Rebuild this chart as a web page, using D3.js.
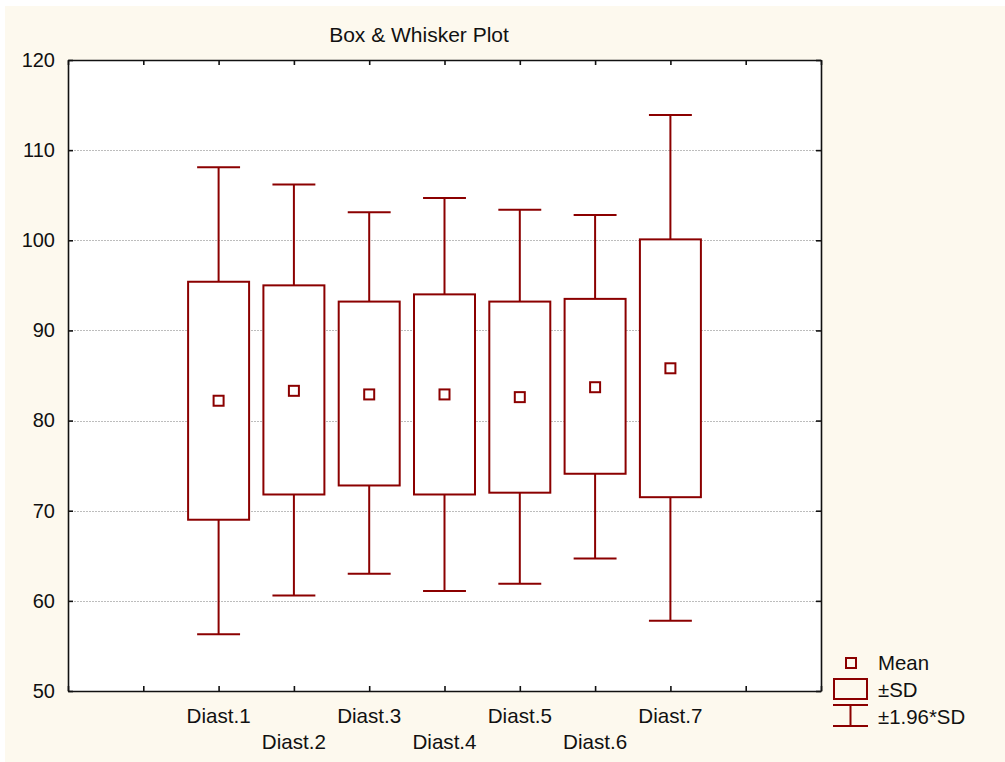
<!DOCTYPE html>
<html>
<head>
<meta charset="utf-8">
<script src="https://cdn.jsdelivr.net/npm/d3@7"></script>
<style>
  body { margin: 0; background: #fff; }
  text { font-family: "Liberation Sans", Arial, sans-serif; fill: #111; }
</style>
</head>
<body>
<div id="chart"></div>
<script>
// values
var categories = ["Diast.1", "Diast.2", "Diast.3", "Diast.4", "Diast.5", "Diast.6", "Diast.7"];
var means   = [82.2, 83.3, 82.9, 82.9, 82.6, 83.7, 85.8];
var sdLow   = [69.0, 71.8, 72.8, 71.8, 72.0, 74.1, 71.5];
var sdHigh  = [95.4, 95.0, 93.2, 94.0, 93.2, 93.5, 100.1];
var ciLow   = [56.3, 60.6, 63.0, 61.1, 61.9, 64.7, 57.8];
var ciHigh  = [108.1, 106.2, 103.1, 104.7, 103.4, 102.8, 113.9];
var yTicks  = [50, 60, 70, 80, 90, 100, 110, 120];
var legendLabels = ["Mean", "\u00B1SD", "\u00B11.96*SD"];

var W = 1005, H = 762;
var red = "#8b0000";

var svg = d3.select("#chart").append("svg")
    .attr("width", W)
    .attr("height", H);

// cream backdrop with thin white margin
svg.append("rect")
    .attr("x", 5).attr("y", 6)
    .attr("width", W - 5).attr("height", H - 6)
    .attr("fill", "#fdf9ee");

var x = d3.scaleLinear().domain([0, 10]).range([68, 821]);
var y = d3.scaleLinear().domain([50, 120]).range([691, 60]);

// plot area
svg.append("rect")
    .attr("x", x(0)).attr("y", y(120))
    .attr("width", x(10) - x(0)).attr("height", y(50) - y(120))
    .attr("fill", "#fff");

// gridlines
svg.append("g")
  .selectAll("line")
  .data(yTicks.slice(1, -1))
  .enter().append("line")
    .attr("x1", x(0)).attr("x2", x(10))
    .attr("y1", d => Math.round(y(d)) + 0.5)
    .attr("y2", d => Math.round(y(d)) + 0.5)
    .attr("stroke", "#bdbdbd")
    .attr("stroke-dasharray", "2,1");

// axes, ticks pointing inwards
function styleAxis(g) {
  g.selectAll("path.domain").attr("stroke", "#111").attr("stroke-width", 1.6);
  g.selectAll(".tick line").attr("stroke", "#111").attr("stroke-width", 1.6);
  g.selectAll(".tick text").style("font-size", "20px").attr("fill", "#111");
}

svg.append("g")
    .attr("transform", "translate(" + x(0) + ",0)")
    .call(d3.axisLeft(y).tickValues(yTicks).tickSize(-5).tickSizeOuter(0).tickPadding(13))
    .call(styleAxis);

svg.append("g")
    .attr("transform", "translate(" + x(10) + ",0)")
    .call(d3.axisRight(y).tickValues(yTicks).tickSize(-5).tickSizeOuter(0).tickFormat(""))
    .call(styleAxis);

svg.append("g")
    .attr("transform", "translate(0," + y(50) + ")")
    .call(d3.axisBottom(x).ticks(10).tickSize(-5).tickSizeOuter(0).tickFormat(""))
    .call(styleAxis);

svg.append("g")
    .attr("transform", "translate(0," + y(120) + ")")
    .call(d3.axisTop(x).ticks(10).tickSize(-5).tickSizeOuter(0).tickFormat(""))
    .call(styleAxis);

// category labels, staggered on two rows
svg.append("g")
  .selectAll("text")
  .data(categories)
  .enter().append("text")
    .attr("x", (d, i) => x(i + 2))
    .attr("y", (d, i) => i % 2 === 0 ? 723 : 749)
    .attr("text-anchor", "middle")
    .style("font-size", "20.6px")
    .text(d => d);

// title
svg.append("text")
    .attr("x", 419)
    .attr("y", 42)
    .attr("text-anchor", "middle")
    .style("font-size", "21px")
    .text("Box & Whisker Plot");

// boxes and whiskers
var boxW = 0.81, capW = 0.57;
var groups = svg.append("g")
  .selectAll("g")
  .data(categories)
  .enter().append("g")
    .attr("fill", "none")
    .attr("stroke", red)
    .attr("stroke-width", 2);

groups.append("line")
    .attr("x1", (d, i) => x(i + 2)).attr("x2", (d, i) => x(i + 2))
    .attr("y1", (d, i) => y(sdHigh[i])).attr("y2", (d, i) => y(ciHigh[i]));
groups.append("line")
    .attr("x1", (d, i) => x(i + 2)).attr("x2", (d, i) => x(i + 2))
    .attr("y1", (d, i) => y(sdLow[i])).attr("y2", (d, i) => y(ciLow[i]));
groups.append("line")
    .attr("x1", (d, i) => x(i + 2 - capW / 2)).attr("x2", (d, i) => x(i + 2 + capW / 2))
    .attr("y1", (d, i) => y(ciHigh[i])).attr("y2", (d, i) => y(ciHigh[i]));
groups.append("line")
    .attr("x1", (d, i) => x(i + 2 - capW / 2)).attr("x2", (d, i) => x(i + 2 + capW / 2))
    .attr("y1", (d, i) => y(ciLow[i])).attr("y2", (d, i) => y(ciLow[i]));
groups.append("rect")
    .attr("x", (d, i) => x(i + 2 - boxW / 2))
    .attr("width", x(boxW) - x(0))
    .attr("y", (d, i) => y(sdHigh[i]))
    .attr("height", (d, i) => y(sdLow[i]) - y(sdHigh[i]))
    .attr("fill", "#fff");
groups.append("rect")
    .attr("x", (d, i) => x(i + 2) - 5)
    .attr("y", (d, i) => y(means[i]) - 5)
    .attr("width", 10).attr("height", 10)
    .attr("fill", "#fff");

// legend
var lg = svg.append("g").attr("fill", "none").attr("stroke", red).attr("stroke-width", 2);
lg.append("rect").attr("x", 846).attr("y", 658).attr("width", 10).attr("height", 10);
lg.append("rect").attr("x", 834).attr("y", 679).attr("width", 33).attr("height", 20);
lg.append("line").attr("x1", 833).attr("x2", 868).attr("y1", 705).attr("y2", 705);
lg.append("line").attr("x1", 833).attr("x2", 868).attr("y1", 726).attr("y2", 726);
lg.append("line").attr("x1", 850.5).attr("x2", 850.5).attr("y1", 705).attr("y2", 726);

svg.append("g")
  .selectAll("text")
  .data(legendLabels)
  .enter().append("text")
    .attr("x", 878)
    .attr("y", (d, i) => 670 + i * 27)
    .style("font-size", "20.4px")
    .text(d => d);
</script>
</body>
</html>
